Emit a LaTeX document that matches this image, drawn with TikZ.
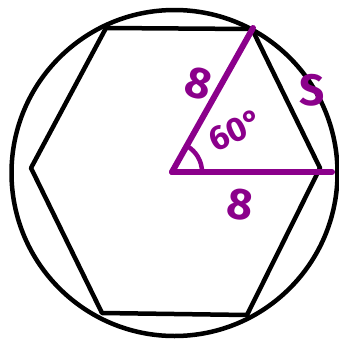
\documentclass[tikz,border=0pt]{standalone}
\usepackage{fontspec}
\setmainfont{Fira Sans}
\usetikzlibrary{positioning}
\definecolor{pen}{RGB}{139,0,139}
\tikzset{
  edge/.style = {line width=4.5pt, line join=round, line cap=round},
  penline/.style = {draw=pen, line width=6pt, line cap=round},
  lbl/.style = {text=pen, font=\fontsize{44}{44}\selectfont\bfseries, inner sep=0pt}
}

\begin{document}
\begin{tikzpicture}[x=1pt, y=-1pt]
            \useasboundingbox (0,0) rectangle (339,341);
            \coordinate (o) at (172,172);
            \coordinate (v1) at (106,28);
            \coordinate (v2) at (252,29);
            \coordinate (v3) at (320,168);
            \coordinate (v4) at (247,315);
            \coordinate (v5) at (102,313);
            \coordinate (v6) at (31,168);
            \coordinate (r1) at (253,28);
            \coordinate (r2) at (332,172);
            \draw[edge] (174.5,173) circle (163);
            \draw[edge] (v1) -- (v2) -- (v3) -- (v4) -- (v5) -- (v6) -- cycle;
            \draw[penline] (o) -- (r1);
            \draw[penline] (o) -- (r2);
            \draw[draw=pen, line width=4.5pt] (202,172) arc[start angle=0, end angle=-60, radius=30];
            \node[lbl, rotate=-15] (a) at (199,84) {8};
            \node[lbl] (s) at (312,90) {S};
            \node[lbl, rotate=25, font=\fontsize{34}{34}\selectfont\bfseries] (ang) at (236,130) {60°};
            \node[lbl, rotate=-8] (b) at (240,205) {8};
        \end{tikzpicture}
\end{document}
